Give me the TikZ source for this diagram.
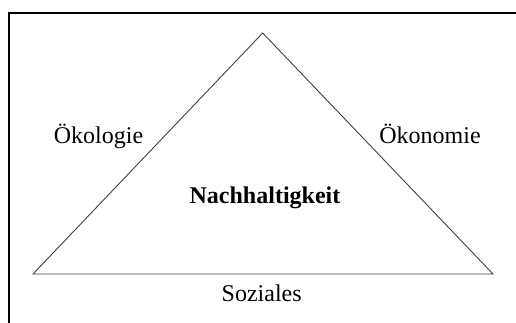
\documentclass[tikz,border=0pt]{standalone}
\usepackage{fontspec}
\setmainfont{Liberation Serif}
\begin{document}
\begin{tikzpicture}[x=1pt,y=-1pt,
  lbl/.style={anchor=base,inner sep=0pt,font=\fontsize{24}{28}\selectfont,text=black},
  edge/.style={line width=0.9pt,draw=black!75}]
\useasboundingbox (0,0) rectangle (516,322);
\clip (0,0) rectangle (516,322);
\fill[white] (0,0) rectangle (516,322);
\draw[line width=2pt] (8.5,340) -- (8.5,12.5) -- (530,12.5);
\coordinate (top) at (262.7,33);
\coordinate (bl) at (33,274);
\coordinate (br) at (493,274);
\draw[edge,line join=miter] (bl) -- (top) -- (br) -- cycle;
\node[lbl] (oeko) at (98.5,143.3) {Ökologie};
\node[lbl] (oekon) at (430,143.3) {Ökonomie};
\node[lbl,font=\fontsize{24}{28}\selectfont\bfseries] (nach) at (265,203.3) {Nachhaltigkeit};
\node[lbl] (soz) at (261.7,301.7) {Soziales};
\end{tikzpicture}
\end{document}
